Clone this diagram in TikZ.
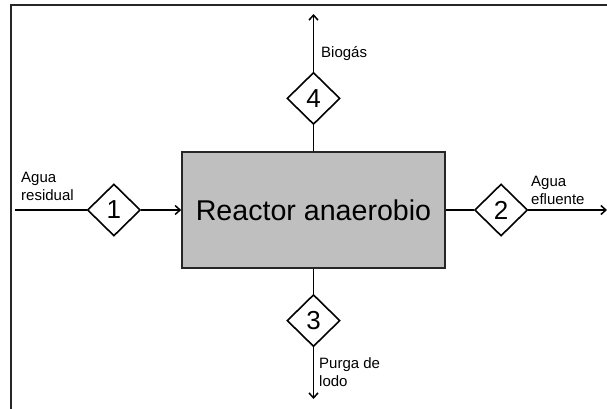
\documentclass[tikz,border=0pt]{standalone}
\usepackage{fontspec}
\setmainfont{Liberation Sans}
\usetikzlibrary{arrows.meta, positioning, shapes.geometric}
\tikzset{
    reactor/.style={
        rectangle, draw=black!85, fill=black!25, line width=1.6pt,
        minimum width=263pt, minimum height=116pt,
        font=\fontsize{28.6}{34}\selectfont
    },
    stream/.style={
        diamond, draw=black, fill=white, line width=1.6pt,
        minimum width=53pt, minimum height=52pt, inner sep=0pt,
        font=\fontsize{26}{30}\selectfont
    },
    lbl/.style={inner sep=0pt, align=left, font=\fontsize{15}{18}\selectfont},
    flow/.style={line width=1.6pt, draw=black},
    arrow/.style={flow, -{Straight Barb[length=5pt, width=9pt, line width=1.5pt]}}
}

\begin{document}
\begin{tikzpicture}[x=1pt, y=-1pt, node distance=26pt]
    \useasboundingbox (0,0) rectangle (607,409);
    % frame (only top and left edges visible)
    \draw[line width=2pt, black!85] (11,409) -- (11,5) -- (607,5);

    \node[reactor] (r) at (313.5,210) {Reactor anaerobio};
    \node[stream, left=40pt of r] (s1) {1};
    \node[stream, right=28pt of r] (s2) {2};
    \node[stream, below=25pt of r] (s3) {3};
    \node[stream, above=26pt of r] (s4) {4};

    \coordinate (in) at (15,210);
    \coordinate (out) at (607,210);
    \coordinate (gas) at (313.5,14);
    \coordinate (purge) at (313.5,399);

    \draw[flow] (in) -- (s1);
    \draw[arrow] (s1) -- (r);
    \draw[flow] (r) -- (s2);
    \draw[arrow] (s2) -- (out);
    \draw[flow] (r) -- (s4);
    \draw[arrow] (s4) -- (gas);
    \draw[flow] (r) -- (s3);
    \draw[arrow] (s3) -- (purge);

    \node[lbl, anchor=south west] (l1) at (21,201) {Agua\\residual};
    \node[lbl, anchor=south west] (l2) at (531,205) {Agua\\efluente};
    \node[lbl, anchor=base west] (l4) at (321,58) {Biogás};
    \node[lbl, anchor=north west] (l3) at (319,357) {Purga de\\lodo};
\end{tikzpicture}
\end{document}
